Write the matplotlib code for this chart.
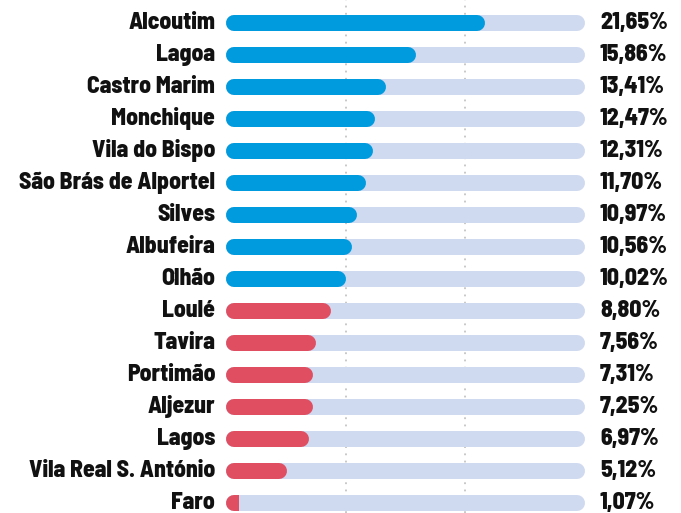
import matplotlib.pyplot as plt
from matplotlib.patches import Rectangle

# dados
municipios = ['Alcoutim', 'Lagoa', 'Castro Marim', 'Monchique', 'Vila do Bispo',
              'São Brás de Alportel', 'Silves', 'Albufeira', 'Olhão', 'Loulé',
              'Tavira', 'Portimão', 'Aljezur', 'Lagos', 'Vila Real S. António', 'Faro']
valores = [21.65, 15.86, 13.41, 12.47, 12.31, 11.70, 10.97, 10.56, 10.02,
           8.80, 7.56, 7.31, 7.25, 6.97, 5.12, 1.07]
limite = 10  # acima -> azul, abaixo -> vermelho
xmax = 30

fonte = ['Barlow Semi Condensed', 'DejaVu Sans']

fig = plt.figure(figsize=(6.81, 5.13), dpi=100)
ax = fig.add_axes([226 / 681, 0, 359 / 681, 1])

dpi = 100
altura_px = 16
lw = altura_px * 72 / dpi
px_por_unid = 359 / xmax
r = (altura_px / 2) / px_por_unid

for i, (nome, v) in enumerate(zip(municipios, valores)):
    ax.plot([r, xmax - r], [i, i], color='#cfd9f0', lw=lw, solid_capstyle='round', zorder=1)
    cor = '#009ade' if v > limite else '#df4f61'
    fim = max(v - r, r + 0.5)
    barra, = ax.plot([r, fim], [i, i], color=cor, lw=lw, solid_capstyle='round', zorder=2)
    # corta a barra no valor (caso da Faro, mais curta que o arredondamento)
    clip = Rectangle((0, i - 0.5), v, 1, transform=ax.transData)
    barra.set_clip_path(clip)
    ax.text(-0.9, i, nome, ha='right', va='center', fontsize=17, fontweight=800,
            family=fonte, color='#111111')
    ax.text(xmax + 1.25, i, f'{v:.2f}%'.replace('.', ','), ha='left', va='center',
            fontsize=17, fontweight=800, family=fonte, color='#111111')

for g in [10, 20]:
    ax.axvline(g, color='#c4c4c4', lw=1.3, ls=(0, (1, 3)), zorder=0)

ax.set_xlim(0, xmax)
ax.set_ylim((513 - 23) / 32, -23 / 32)
ax.axis('off')

fig.savefig('out.png', dpi=100)
